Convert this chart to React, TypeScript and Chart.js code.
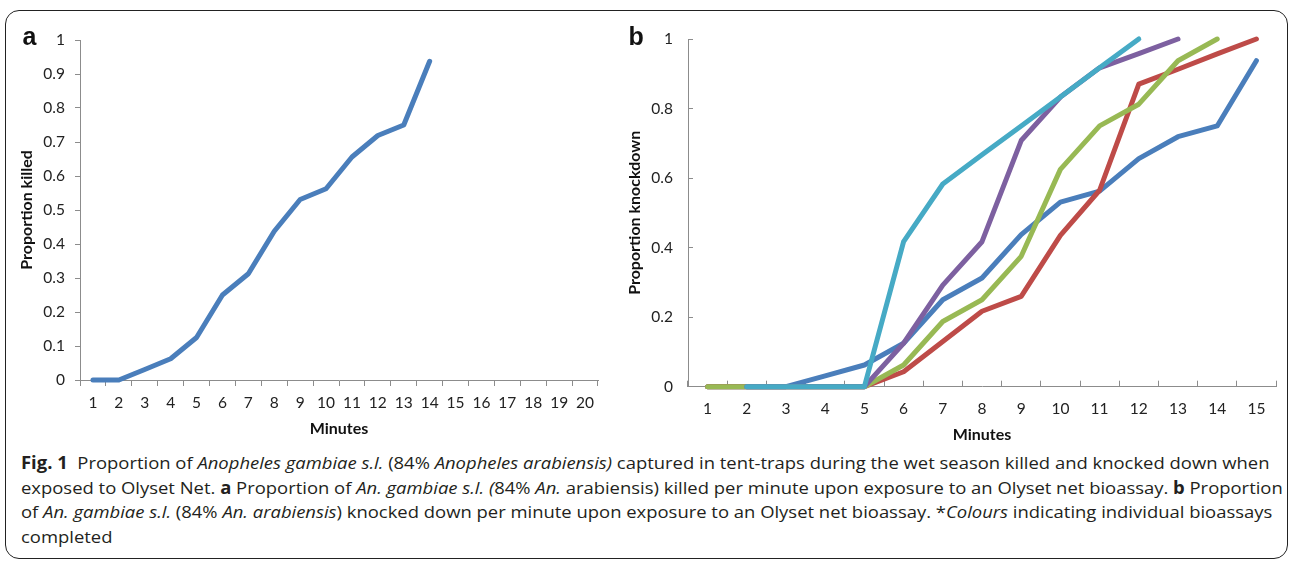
import React, { useEffect, useLayoutEffect, useRef, useState } from "react";
import { Chart, registerables } from "chart.js";
Chart.register(...registerables);

// ---- Panel a data ----
const minutesA = ["1","2","3","4","5","6","7","8","9","10","11","12","13","14","15","16","17","18","19","20"];
const killedA = [0, 0, 0.031, 0.0625, 0.125, 0.25, 0.3125, 0.4375, 0.531, 0.5625, 0.656, 0.719, 0.75, 0.9375];
const yTicksA = [0, 0.1, 0.2, 0.3, 0.4, 0.5, 0.6, 0.7, 0.8, 0.9, 1];

// ---- Panel b data ----
const minutesB = ["1","2","3","4","5","6","7","8","9","10","11","12","13","14","15"];
const kdBlue = [0, 0, 0, 0.031, 0.0625, 0.125, 0.25, 0.3125, 0.4375, 0.531, 0.5625, 0.656, 0.719, 0.75, 0.9375];
const kdRed = [0, 0, 0, 0, 0, 0.043, 0.13, 0.217, 0.26, 0.435, 0.565, 0.87, 0.913, 0.957, 1];
const kdGreen = [0, 0, 0, 0, 0, 0.0625, 0.1875, 0.25, 0.375, 0.625, 0.75, 0.8125, 0.9375, 1];
const kdPurple = [null, 0, 0, 0, 0, 0.125, 0.292, 0.417, 0.708, 0.833, 0.917, 0.958, 1];
const kdCyan = [null, 0, 0, 0, 0, 0.417, 0.583, 0.667, 0.75, 0.833, 0.917, 1];
const yTicksB = [0, 0.2, 0.4, 0.6, 0.8, 1];

const AXIS = "#8c8c8c";
const TICKFONT = { family: "Lato, 'Open Sans', sans-serif", size: 15.5, lineHeight: 1.2 };
const TITLEFONT = { family: "Lato, 'Open Sans', sans-serif", size: 16, weight: "bold" as const, lineHeight: 1.2 };

function lineDs(data: (number | null)[], color: string, order: number) {
  return {
    data,
    borderColor: color,
    backgroundColor: color,
    borderWidth: 5,
    pointRadius: 0,
    tension: 0,
    borderCapStyle: "round" as const,
    borderJoinStyle: "round" as const,
    clip: false as any,
    order,
    fill: false,
  };
}

type Cfg = {
  labels: string[];
  datasets: any[];
  yTicks: number[];
  pad: { top: number; right: number };
  yWidth: number;
  xHeight: number;
  yTl: number;
  yPad: number;
  xTl: number;
  xPad: number;
  yTitle: string;
  yTitlePad: number;
  xTitlePad: number;
};

function makeChart(canvas: HTMLCanvasElement, c: Cfg) {
  return new Chart(canvas, {
    type: "line",
    data: { labels: c.labels, datasets: c.datasets },
    options: {
      animation: false,
      responsive: false,
      maintainAspectRatio: false,
      layout: { padding: { left: 0, top: c.pad.top, right: c.pad.right, bottom: 0 } },
      plugins: { legend: { display: false }, tooltip: { enabled: false } },
      scales: {
        x: {
          type: "category",
          offset: true,
          grid: { offset: true, drawOnChartArea: false, drawTicks: true, tickLength: c.xTl, color: AXIS },
          border: { display: true, color: AXIS, width: 1 },
          ticks: { font: TICKFONT, color: "#222", padding: c.xPad, maxRotation: 0, autoSkip: false },
          title: { display: true, text: "Minutes", font: TITLEFONT, color: "#111", padding: { top: 0, bottom: c.xTitlePad } },
          afterFit: (s: any) => { s.height = c.xHeight; },
        },
        y: {
          type: "linear",
          min: 0,
          max: 1,
          grid: { drawOnChartArea: false, drawTicks: true, tickLength: c.yTl, color: AXIS },
          border: { display: true, color: AXIS, width: 1 },
          ticks: { font: TICKFONT, color: "#222", padding: c.yPad, callback: (v: any) => String(Number(v)) },
          afterBuildTicks: (s: any) => { s.ticks = c.yTicks.map((v) => ({ value: v })); },
          title: { display: true, text: c.yTitle, font: TITLEFONT, color: "#111", padding: { top: c.yTitlePad, bottom: 0 } },
          afterFit: (s: any) => { s.width = c.yWidth; },
        },
      },
    },
  });
}

function ChartCanvas({ cfg, w, h }: { cfg: Cfg; w: number; h: number }) {
  const ref = useRef<HTMLCanvasElement>(null);
  useEffect(() => {
    if (!ref.current) return;
    const ch = makeChart(ref.current, cfg);
    return () => ch.destroy();
  }, []);
  return <canvas ref={ref} width={w} height={h} style={{ width: w, height: h, display: "block" }} />;
}

const cfgA: Cfg = {
  labels: minutesA,
  datasets: [lineDs(killedA, "#4A7EBB", 1)],
  yTicks: yTicksA,
  pad: { top: 40, right: 22 },
  yWidth: 80,
  xHeight: 70,
  yTl: 5,
  yPad: 10,
  xTl: 6,
  xPad: 8,
  yTitle: "Proportion killed",
  yTitlePad: 17,
  xTitlePad: 11.4,
};

const cfgB: Cfg = {
  labels: minutesB,
  datasets: [
    lineDs(kdBlue, "#4A7EBB", 5),
    lineDs(kdRed, "#BE4B48", 4),
    lineDs(kdGreen, "#98B954", 3),
    lineDs(kdPurple, "#7D60A0", 2),
    lineDs(kdCyan, "#46AAC5", 1),
  ],
  yTicks: yTicksB,
  pad: { top: 39, right: 14 },
  yWidth: 88,
  xHeight: 63.3,
  yTl: -5,
  yPad: 20,
  xTl: -6,
  xPad: 19,
  yTitle: "Proportion knockdown",
  yTitlePad: 25.4,
  xTitlePad: 5.4,
};

function Caption() {
  const first = useRef<HTMLSpanElement>(null);
  const [sx, setSx] = useState(1);
  useLayoutEffect(() => {
    const measure = () => {
      if (first.current) {
        const natural = first.current.offsetWidth;
        if (natural > 0) setSx(1249 / natural);
      }
    };
    measure();
    (document as any).fonts?.ready?.then(measure);
  }, []);
  const line: React.CSSProperties = { display: "block", height: 24.5, whiteSpace: "nowrap" };
  return (
    <div
      style={{
        position: "absolute",
        left: 21,
        top: 451,
        fontFamily: "'Open Sans', 'Noto Sans', sans-serif",
        fontSize: 17,
        lineHeight: "24.5px",
        color: "#231f20",
        transform: `scaleX(${sx})`,
        transformOrigin: "left top",
      }}
    >
      <div style={line}>
        <span ref={first} style={{ display: "inline-block" }}>
          <b>Fig. 1</b>&nbsp;&nbsp;Proportion of <i>Anopheles gambiae s.l.</i> (84% <i>Anopheles arabiensis)</i> captured in tent-traps during the wet season killed and knocked down when
        </span>
      </div>
      <div style={line}>
        exposed to Olyset Net. <b>a</b> Proportion of <i>An. gambiae s.l. (</i>84% <i>An.</i> arabiensis) killed per minute upon exposure to an Olyset net bioassay. <b>b</b> Proportion
      </div>
      <div style={line}>
        of <i>An. gambiae s.l.</i> (84% <i>An. arabiensis</i>) knocked down per minute upon exposure to an Olyset net bioassay. *<i>Colours</i> indicating individual bioassays
      </div>
      <div style={line}>completed</div>
    </div>
  );
}

export default function App() {
  const letter: React.CSSProperties = {
    position: "absolute",
    fontFamily: "'Liberation Sans', Arial, sans-serif",
    fontWeight: "bold",
    fontSize: 25,
    lineHeight: "25px",
    color: "#111",
  };
  return (
    <div style={{ position: "fixed", left: 0, top: 0, width: 1290, height: 563, background: "#fff", overflow: "hidden" }}>
      <div
        style={{
          position: "absolute",
          left: 5,
          top: 10,
          width: 1283,
          height: 549,
          border: "1.3px solid #222",
          borderRadius: 14,
          boxSizing: "border-box",
        }}
      />
      <div style={{ position: "absolute", left: 0, top: 0 }}>
        <ChartCanvas cfg={cfgA} w={620} h={450} />
      </div>
      <div style={{ position: "absolute", left: 600, top: 0 }}>
        <ChartCanvas cfg={cfgB} w={690} h={450} />
      </div>
      <div style={{ ...letter, left: 22.5, top: 23.8 }}>a</div>
      <div style={{ ...letter, left: 628.5, top: 24 }}>b</div>
      <Caption />
    </div>
  );
}
